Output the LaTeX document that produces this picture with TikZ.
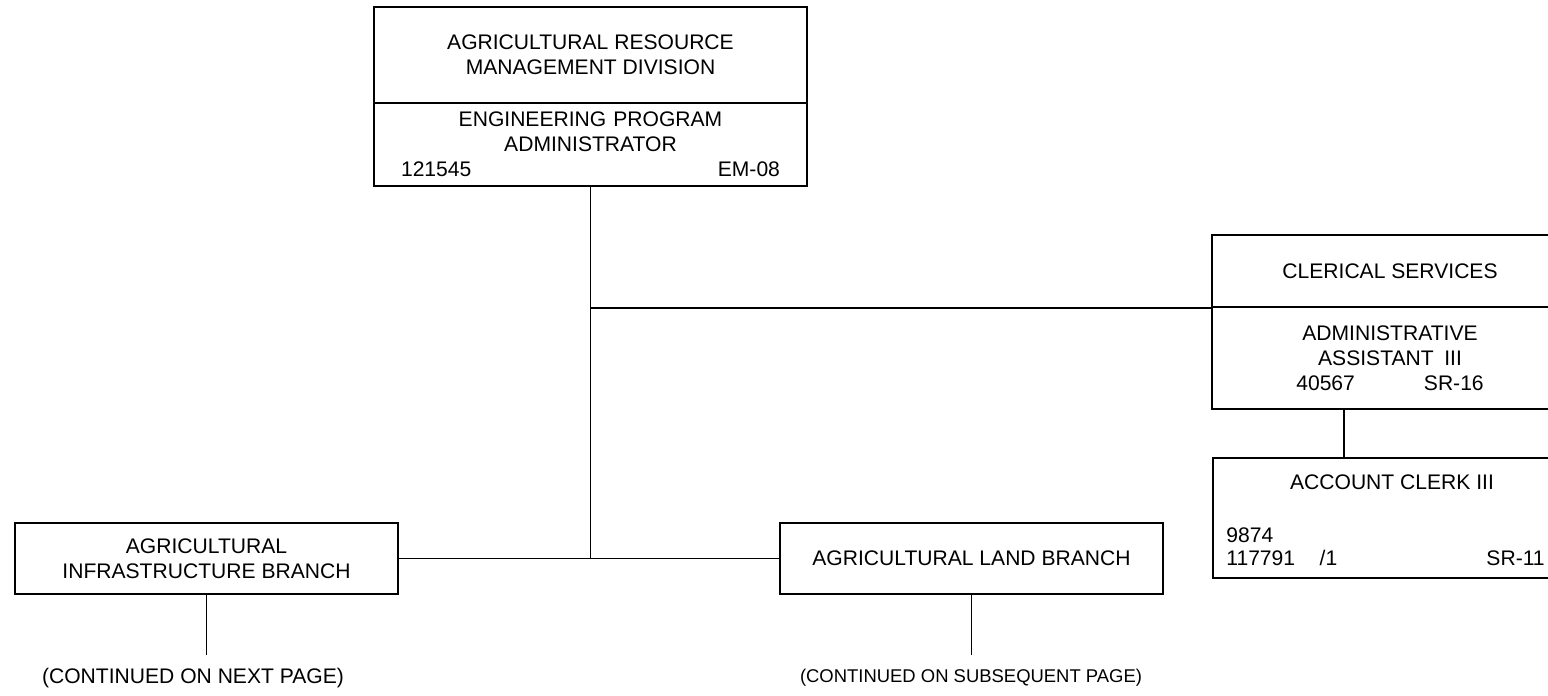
\documentclass[tikz,border=0pt]{standalone}
\usepackage{fontspec}
\setmainfont{Liberation Sans}
\usepackage{tikz}

\tikzset{
  unit/.style={draw, line width=1pt, inner sep=0pt, align=center, font=\fontsize{12}{14.2}\selectfont},
  label12/.style={inner sep=0pt, font=\fontsize{12}{14.2}\selectfont},
  contnote/.style={inner sep=0pt, font=\fontsize{10.5}{12}\selectfont}
}

\begin{document}
\begin{tikzpicture}[x=0.02cm, y=-0.02cm]
    \useasboundingbox (0,0) rectangle (1548,696);
    % division head
    \node[unit, minimum width=8.66cm, minimum height=1.92cm] (armd) at (590.5,55) {AGRICULTURAL RESOURCE\\MANAGEMENT DIVISION};
    \node[unit, minimum width=8.66cm, minimum height=1.66cm, text width=7.58cm] (epa) at (590.5,144.5) {ENGINEERING PROGRAM\\ADMINISTRATOR\\121545\hfill EM-08};
    % clerical services
    \node[unit, minimum width=7.12cm, minimum height=1.44cm] (cler) at (1390,271) {CLERICAL SERVICES};
    \node[unit, minimum width=7.12cm, minimum height=2.04cm] (admin) at (1390,358) {ADMINISTRATIVE\\ASSISTANT\enspace III\\40567\hspace{1.38cm}SR-16};
    \node[unit, minimum width=7.1cm, minimum height=2.4cm] (acct) at (1390.5,518) {};
    \node[label12] (accttitle) at (1392,482) {ACCOUNT CLERK III};
    \node[label12, anchor=west] (acctcode) at (1226,535) {9874};
    \node[label12, anchor=west] (acctpos) at (1226,558) {117791\hspace{14pt}/1};
    \node[label12, anchor=east] (acctgrade) at (1545,558) {SR-11};
    % branches
    \node[unit, minimum width=7.66cm, minimum height=1.42cm] (infra) at (206.5,558.5) {AGRICULTURAL\\INFRASTRUCTURE BRANCH};
    \node[unit, minimum width=7.66cm, minimum height=1.42cm] (land) at (971.5,558.5) {AGRICULTURAL LAND BRANCH};
    \node[label12] (infranote) at (193,678) {(CONTINUED ON NEXT PAGE)};
    \node[contnote] (landnote) at (971,678) {(CONTINUED ON SUBSEQUENT PAGE)};
    \coordinate (infraend) at (206.5,655);
    \coordinate (landend) at (971.5,655);
    \coordinate (tap) at (1344,0);

    % connectors
    \draw[line width=1pt] (epa.south) -- (epa.south |- infra.east);
    \draw[line width=1pt] (infra.east) -- (land.west);
    \draw[line width=1pt] (epa.south |- cler.south west) -- (cler.south west);
    \draw[line width=1pt] (admin.south -| tap) -- (acct.north -| tap);
    \draw[line width=1pt] (infra.south) -- (infraend);
    \draw[line width=1pt] (land.south) -- (landend);
\end{tikzpicture}
\end{document}
